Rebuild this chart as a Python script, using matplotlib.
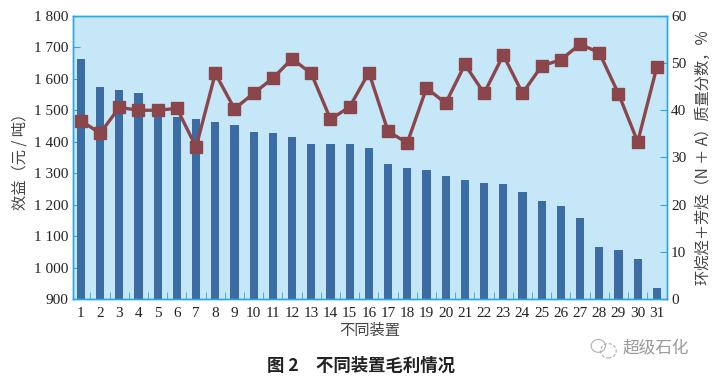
import matplotlib
matplotlib.use("Agg")
import matplotlib.pyplot as plt
from matplotlib.patches import Ellipse
from matplotlib.ticker import FuncFormatter, MultipleLocator

# --- data --------------------------------------------------------------------
units = list(range(1, 32))
profit = [1663, 1575, 1564, 1556, 1497, 1479, 1472, 1463, 1453, 1432,
          1429, 1415, 1393, 1393, 1393, 1380, 1328, 1317, 1310, 1292,
          1277, 1268, 1265, 1240, 1211, 1195, 1158, 1064, 1056, 1026, 934]
na_frac = [37.8, 35.1, 40.6, 40.0, 40.0, 40.4, 32.2, 47.8, 40.3, 43.6,
           46.8, 50.9, 47.8, 38.1, 40.7, 48.0, 35.5, 33.1, 44.7, 41.5,
           49.7, 43.6, 51.7, 43.6, 49.4, 50.7, 54.0, 52.2, 43.5, 33.3, 49.2]

BAR_C = "#3B6CA3"
LINE_C = "#8B464C"
AX_C = "#29A8E0"
BG_C = "#C6E7F8"
CJK = ["Noto Sans CJK SC", "DejaVu Sans"]
NUM = "Liberation Serif"

fig = plt.figure(figsize=(7.14, 3.78), dpi=100)
ax = fig.add_axes([0.102, 0.209, 0.832, 0.749])
ax.set_facecolor(BG_C)

ax.bar(units, [p - 900 for p in profit], bottom=900, width=0.42, color=BAR_C, zorder=2)
ax.set_xlim(0.58, 31.52)
ax.set_ylim(900, 1800)
ax.yaxis.set_major_locator(MultipleLocator(100))
ax.yaxis.set_major_formatter(FuncFormatter(lambda v, p: f"{int(v):,}".replace(",", " ")))

ax.set_xticks(units)
ax.set_xticks([u + 0.5 for u in units[:-1]], minor=True)
ax.tick_params(axis="x", which="major", length=0, pad=6)
ax.tick_params(axis="x", which="minor", direction="in", length=5, color=AX_C)
ax.tick_params(axis="y", direction="in", length=5, color=AX_C, pad=3)
for lab in ax.get_xticklabels() + ax.get_yticklabels():
    lab.set_fontfamily(NUM)
    lab.set_fontsize(11)
    lab.set_color("#222222")

ax2 = ax.twinx()
ax2.plot(units, na_frac, color=LINE_C, lw=2.4, marker="s", ms=8.5, zorder=3)
ax2.set_ylim(0, 60)
ax2.yaxis.set_major_locator(MultipleLocator(10))
ax2.tick_params(axis="y", direction="in", length=5, color=AX_C, pad=3)
for lab in ax2.get_yticklabels():
    lab.set_fontfamily(NUM)
    lab.set_fontsize(11)
    lab.set_color("#222222")

for a in (ax, ax2):
    for s in a.spines.values():
        s.set_color(AX_C)
        s.set_linewidth(1.0)

ax.set_ylabel("效益（元 / 吨）", family=CJK, fontsize=11, color="#444444", labelpad=4)
ax2.set_ylabel("环烷烃＋芳烃（N ＋ A）质量分数，%", family=CJK, fontsize=11,
               color="#444444", rotation=90, labelpad=6)
ax.set_xlabel("不同装置", family=CJK, fontsize=11, color="#444444", labelpad=1)

fig.text(0.505, 0.032, "图 2　不同装置毛利情况", family=CJK, fontsize=12.5,
         fontweight="bold", ha="center", va="center", color="#222222")
fig.text(0.872, 0.08, "超级石化", family=CJK, fontsize=12, ha="left", va="center",
         color="#9a9a9a")
# faint chat-bubble logo next to the watermark
fig.patches.append(Ellipse((0.838, 0.085), 0.02, 0.034, transform=fig.transFigure,
                           fill=False, ec="#b0b0b0", lw=0.8))
fig.patches.append(Ellipse((0.852, 0.072), 0.022, 0.038, transform=fig.transFigure,
                           fill=False, ec="#b0b0b0", lw=0.8, ls=(0, (3, 1.5))))

plt.savefig("out.png", dpi=100)
